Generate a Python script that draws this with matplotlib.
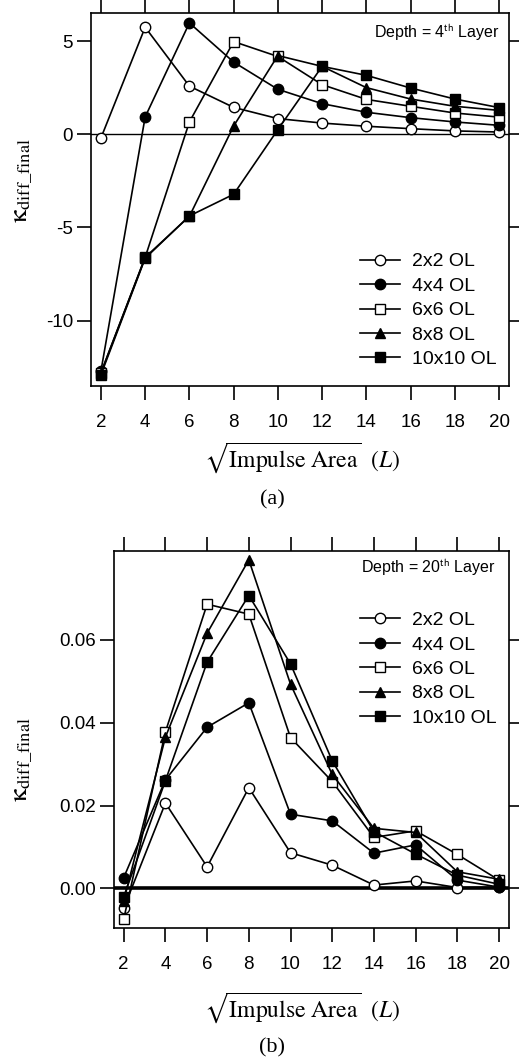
import numpy as np
import matplotlib
matplotlib.use("Agg")
import matplotlib.pyplot as plt

plt.rcParams['font.family'] = ['Liberation Sans', 'DejaVu Sans']
plt.rcParams['axes.unicode_minus'] = False

# impulse sizes (sqrt of impulse area, in L)
x_vals = [2, 4, 6, 8, 10, 12, 14, 16, 18, 20]
labels = ['2x2 OL', '4x4 OL', '6x6 OL', '8x8 OL', '10x10 OL']

# (a) depth = 4th layer
top_2x2 = [-0.2, 5.74, 2.58, 1.44, 0.84, 0.60, 0.43, 0.30, 0.18, 0.12]
top_4x4 = [-12.7, 0.93, 5.97, 3.87, 2.41, 1.64, 1.18, 0.89, 0.66, 0.48]
top_6x6 = [-12.8, -6.6, 0.66, 4.97, 4.17, 2.66, 1.87, 1.50, 1.14, 0.92]
top_8x8 = [-12.8, -6.6, -4.4, 0.44, 4.22, 3.64, 2.50, 1.89, 1.50, 1.28]
top_10x10 = [-12.9, -6.65, -4.38, -3.22, 0.25, 3.64, 3.16, 2.48, 1.89, 1.43]

# (b) depth = 20th layer
bot_2x2 = [-0.0048, 0.0206, 0.0052, 0.0243, 0.0086, 0.0056, 0.0008, 0.0018, 0.0002, 0.0003]
bot_4x4 = [0.0026, 0.0262, 0.0389, 0.0448, 0.0179, 0.0163, 0.0085, 0.0105, 0.0020, 0.0003]
bot_6x6 = [-0.0074, 0.0378, 0.0686, 0.0662, 0.0364, 0.0258, 0.0123, 0.0139, 0.0082, 0.0020]
bot_8x8 = [-0.0030, 0.0365, 0.0616, 0.0793, 0.0493, 0.0275, 0.0145, 0.0135, 0.0040, 0.0022]
bot_10x10 = [-0.0020, 0.0260, 0.0546, 0.0707, 0.0542, 0.0308, 0.0137, 0.0083, 0.0032, 0.0010]

styles = [
    dict(marker='o', mfc='white'),
    dict(marker='o', mfc='black'),
    dict(marker='s', mfc='white'),
    dict(marker='^', mfc='black'),
    dict(marker='s', mfc='black'),
]

ylab = r'$\mathrm{\kappa}_{\rm diff\_final}$'


def draw(ax, series, zero_lw):
    ax.axhline(0, color='black', lw=zero_lw, zorder=1)
    for y, lab, st in zip(series, labels, styles):
        ax.plot(x_vals, y, color='black', lw=1.2, ms=7.5, mec='black',
                mew=1.0, label=lab, zorder=3, **st)
    ax.set_xticks(x_vals)
    ax.tick_params(direction='out', length=10, width=1.2, labelsize=13.5,
                   top=True, right=True, color='black')
    ax.tick_params(axis='x', pad=10)
    ax.tick_params(axis='y', pad=3)
    for s in ax.spines.values():
        s.set_linewidth(1.2)


fig = plt.figure(figsize=(5.19, 10.61), dpi=100)

# panel (a)
ax1 = fig.add_axes([0.1753, 0.6362, 0.8054, 0.3515])
draw(ax1, [top_2x2, top_4x4, top_6x6, top_8x8, top_10x10], 1.0)
ax1.set_xlim(1.55, 20.45)
ax1.set_ylim(-13.5, 6.5)
ax1.set_yticks([-10, -5, 0, 5])
ax1.set_ylabel(ylab, fontsize=19, math_fontfamily='stix')
ax1.yaxis.set_label_coords(-0.134, 0.55)
ax1.text(0.976, 0.946, r'Depth = 4$^{\rm th}$ Layer', transform=ax1.transAxes,
         ha='right', va='center', fontsize=11.5, math_fontfamily='stixsans')
ax1.legend(loc='center left', bbox_to_anchor=(0.6435, 0.2024), frameon=False,
           fontsize=14, handlelength=2.06, handletextpad=0.6, labelspacing=0.35,
           borderpad=0, borderaxespad=0)

# panel (b)
ax2 = fig.add_axes([0.2197, 0.1256, 0.7611, 0.3553])
draw(ax2, [bot_2x2, bot_4x4, bot_6x6, bot_8x8, bot_10x10], 2.6)
ax2.set_xlim(1.535, 20.48)
ax2.set_ylim(-0.0095, 0.0815)
ax2.set_yticks([0.0, 0.02, 0.04, 0.06])
ax2.yaxis.set_major_formatter(matplotlib.ticker.FormatStrFormatter('%.2f'))
ax2.set_ylabel(ylab, fontsize=19, math_fontfamily='stix')
ax2.yaxis.set_label_coords(-0.2, 0.447)
ax2.text(0.965, 0.955, r'Depth = 20$^{\rm th}$ Layer', transform=ax2.transAxes,
         ha='right', va='center', fontsize=11.5, math_fontfamily='stixsans')
ax2.legend(loc='center left', bbox_to_anchor=(0.623, 0.686), frameon=False,
           fontsize=14, handlelength=2.06, handletextpad=0.6, labelspacing=0.35,
           borderpad=0, borderaxespad=0)

# x labels and panel captions
xlab = r'$\sqrt{\mathrm{Impulse\ Area}}\ \ (L)$'
fig.text(302 / 519, 1 - 458 / 1061, xlab, ha='center', va='center',
         fontsize=17, math_fontfamily='stix')
fig.text(272 / 519, 1 - 500 / 1061, '(a)', ha='center', va='center',
         fontsize=16, family='Liberation Serif')
fig.text(302 / 519, 1 - 1008 / 1061, xlab, ha='center', va='center',
         fontsize=17, math_fontfamily='stix')
fig.text(272 / 519, 1 - 1048 / 1061, '(b)', ha='center', va='center',
         fontsize=16, family='Liberation Serif')

fig.savefig('out.png', dpi=100)
